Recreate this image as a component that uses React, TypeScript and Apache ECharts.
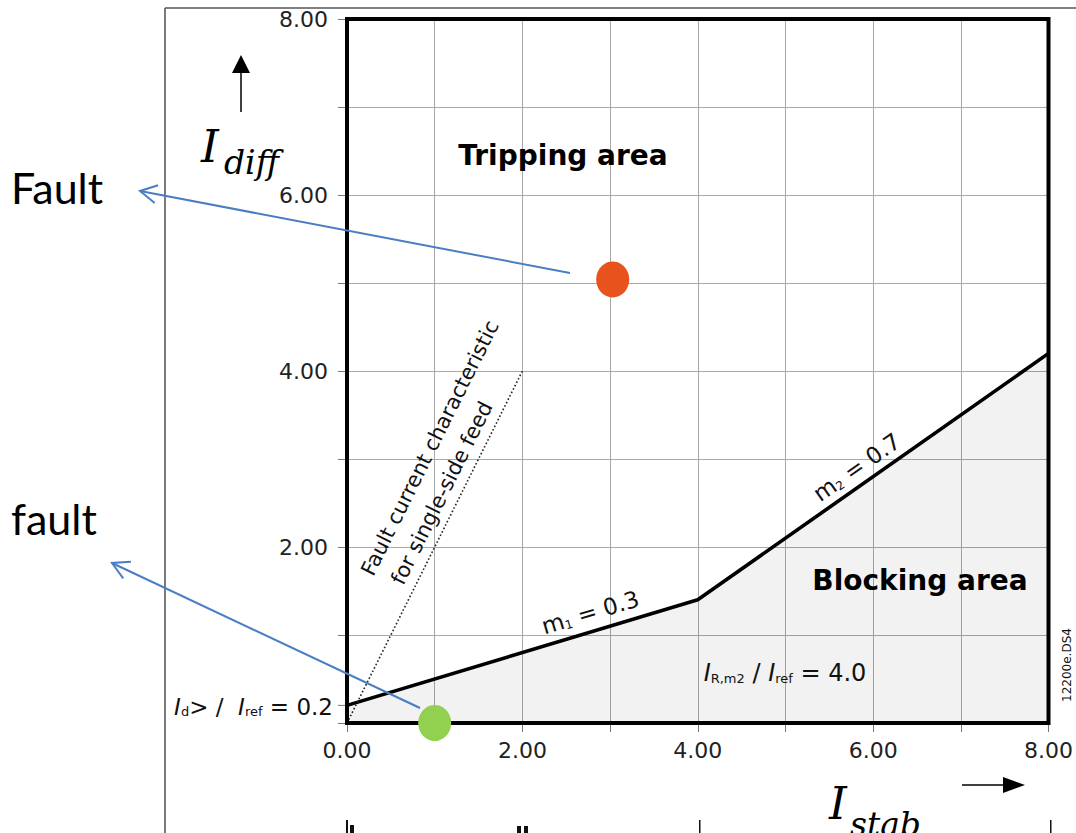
import React, { useEffect, useRef } from "react";
import * as echarts from "echarts";

// ---- data ----
const axisMin = 0;
const axisMax = 8;
const axisStep = 1;
const characteristicX = [0, 4, 8];
const characteristicY = [0.2, 1.4, 4.2];
const singleFeedX = [0, 2];
const singleFeedY = [0, 4];
const faultHigh = [3.03, 5.04];
const faultLow = [1.0, 0.0];
const pickupValue = 0.2;

const tickFont = "DejaVu Sans";

export default function App() {
  const ref = useRef<HTMLDivElement>(null);

  useEffect(() => {
    const chart = echarts.init(ref.current!, null, { renderer: "svg" });
    const axisCommon = {
      type: "value",
      min: axisMin,
      max: axisMax,
      interval: axisStep,
      axisLine: { show: false },
      axisTick: { show: true, inside: false, length: 9, lineStyle: { color: "#777", width: 1 } },
      splitLine: { show: true, lineStyle: { color: "#a8a8a8", width: 1 } },
    };
    chart.setOption({
      animation: false,
      backgroundColor: "#ffffff",
      grid: { left: 347, right: 25, top: 19, bottom: 110, containLabel: false },
      xAxis: {
        ...axisCommon,
        axisLabel: {
          margin: 16,
          fontFamily: tickFont,
          fontSize: 22,
          color: "#222",
          formatter: (v: number) => (v % 2 === 0 ? v.toFixed(2) : ""),
        },
      },
      yAxis: {
        ...axisCommon,
        axisLabel: {
          margin: 19,
          fontFamily: tickFont,
          fontSize: 22,
          color: "#222",
          formatter: (v: number) => (v % 2 === 0 && v > 0 ? v.toFixed(2) : ""),
        },
      },
      series: [
        {
          type: "line",
          data: characteristicX.map((x, i) => [x, characteristicY[i]]),
          symbol: "none",
          lineStyle: { color: "#000", width: 3.6 },
          areaStyle: { color: "rgba(0,0,0,0.075)", origin: "start" },
          z: 3,
        },
        {
          type: "line",
          data: singleFeedX.map((x, i) => [x, singleFeedY[i]]),
          symbol: "none",
          lineStyle: { color: "#222", width: 1.6, type: [1.6, 2.2] },
          z: 3,
        },
        {
          type: "scatter",
          data: [faultHigh],
          symbol: "circle",
          symbolSize: [33, 36],
          itemStyle: { color: "#E8521C", opacity: 1 },
          clip: false,
          z: 20,
        },
        {
          type: "scatter",
          data: [faultLow],
          symbol: "circle",
          symbolSize: [33, 36],
          itemStyle: { color: "#92D050", opacity: 1 },
          clip: false,
          z: 20,
        },
      ],
    });

    const px = (v: number[]) => chart.convertToPixel({ gridIndex: 0 }, v) as number[];
    const tl = px([axisMin, axisMax]);
    const br = px([axisMax, axisMin]);
    const pick = px([axisMin, pickupValue]);

    const blue = "#4A7EC4";
    const arrowHead = (tip: number[], from: number[], len: number, spread: number) => {
      const ang = Math.atan2(from[1] - tip[1], from[0] - tip[0]);
      const a1 = ang + spread;
      const a2 = ang - spread;
      return [
        [tip[0] + len * Math.cos(a1), tip[1] + len * Math.sin(a1)],
        tip,
        [tip[0] + len * Math.cos(a2), tip[1] + len * Math.sin(a2)],
      ];
    };

    const textEl = (text: string, x: number, y: number, style: any, rotation = 0, z = 12) => ({
      type: "text",
      x,
      y,
      rotation,
      z,
      style: { text, x: 0, y: 0, align: "center", verticalAlign: "middle", fill: "#111", ...style },
    });

    const a1Tip = [140, 191];
    const a1From = [570, 273];
    const a2Tip = [112, 563];
    const a2From = [420, 708];

    const graphic: any[] = [
      // outer page lines
      { type: "line", shape: { x1: 165, y1: 8, x2: 165, y2: 833 }, style: { stroke: "#333", lineWidth: 1.3 }, z: 1 },
      { type: "line", shape: { x1: 165, y1: 8, x2: 1076, y2: 8 }, style: { stroke: "#555", lineWidth: 1.3 }, z: 1 },
      // frame
      {
        type: "rect",
        shape: { x: tl[0], y: tl[1], width: br[0] - tl[0], height: br[1] - tl[1] },
        style: { fill: "none", stroke: "#000", lineWidth: 4 },
        z: 10,
      },
      // pickup tick
      { type: "line", shape: { x1: pick[0] - 9, y1: pick[1], x2: pick[0], y2: pick[1] }, style: { stroke: "#777", lineWidth: 1 }, z: 5 },
      // bottom marks
      { type: "rect", shape: { x: 346, y: 820, width: 2, height: 13 }, style: { fill: "#111" }, z: 5 },
      { type: "rect", shape: { x: 350, y: 825, width: 4, height: 8 }, style: { fill: "#111" }, z: 5 },
      { type: "rect", shape: { x: 517, y: 826, width: 4, height: 7 }, style: { fill: "#111" }, z: 5 },
      { type: "rect", shape: { x: 524, y: 826, width: 4, height: 7 }, style: { fill: "#111" }, z: 5 },
      { type: "rect", shape: { x: 699, y: 820, width: 1.5, height: 13 }, style: { fill: "#111" }, z: 5 },
      { type: "rect", shape: { x: 1050, y: 820, width: 1.5, height: 13 }, style: { fill: "#111" }, z: 5 },
      // blue annotation arrows
      { type: "line", shape: { x1: a1From[0], y1: a1From[1], x2: a1Tip[0], y2: a1Tip[1] }, style: { stroke: blue, lineWidth: 2 }, z: 15 },
      { type: "polyline", shape: { points: arrowHead(a1Tip, a1From, 19, 0.5) }, style: { stroke: blue, lineWidth: 2, fill: "none" }, z: 15 },
      { type: "line", shape: { x1: a2From[0], y1: a2From[1], x2: a2Tip[0], y2: a2Tip[1] }, style: { stroke: blue, lineWidth: 2 }, z: 15 },
      { type: "polyline", shape: { points: arrowHead(a2Tip, a2From, 19, 0.5) }, style: { stroke: blue, lineWidth: 2, fill: "none" }, z: 15 },
      // axis arrows
      { type: "line", shape: { x1: 241, y1: 112, x2: 241, y2: 70 }, style: { stroke: "#000", lineWidth: 1.5 }, z: 5 },
      { type: "polygon", shape: { points: [[232, 73], [250, 73], [241, 55]] }, style: { fill: "#000" }, z: 5 },
      { type: "line", shape: { x1: 962, y1: 785, x2: 1005, y2: 785 }, style: { stroke: "#000", lineWidth: 1.5 }, z: 5 },
      { type: "polygon", shape: { points: [[1003, 777], [1003, 793], [1025, 785]] }, style: { fill: "#000" }, z: 5 },
      // left labels
      { type: "text", x: 11, y: 187, z: 12, style: { text: "Fault", x: 0, y: 0, align: "left", verticalAlign: "middle", fill: "#000", fontFamily: "Lato", fontSize: 43 } },
      { type: "text", x: 11, y: 518, z: 12, style: { text: "fault", x: 0, y: 0, align: "left", verticalAlign: "middle", fill: "#000", fontFamily: "Lato", fontSize: 43 } },
      // I_diff
      { type: "text", x: 201, y: 169, z: 12, style: { text: "I", x: 0, y: 0, align: "left", verticalAlign: "bottom", fill: "#000", fontFamily: "DejaVu Serif", fontStyle: "italic", fontSize: 45 } },
      { type: "text", x: 224, y: 179, z: 12, style: { text: "diff", x: 0, y: 0, align: "left", verticalAlign: "bottom", fill: "#000", fontFamily: "DejaVu Serif", fontStyle: "italic", fontSize: 33 } },
      // I_stab
      { type: "text", x: 829, y: 826, z: 12, style: { text: "I", x: 0, y: 0, align: "left", verticalAlign: "bottom", fill: "#000", fontFamily: "DejaVu Serif", fontStyle: "italic", fontSize: 45 } },
      { type: "text", x: 850, y: 841, z: 12, style: { text: "stab", x: 0, y: 0, align: "left", verticalAlign: "bottom", fill: "#000", fontFamily: "DejaVu Serif", fontStyle: "italic", fontSize: 33 } },
      // area labels
      textEl("Tripping area", 563, 155, { fontFamily: "DejaVu Sans", fontWeight: "bold", fontSize: 28, fill: "#000" }),
      textEl("Blocking area", 920, 580, { fontFamily: "DejaVu Sans", fontWeight: "bold", fontSize: 28, fill: "#000" }),
      // slope labels
      {
        type: "text", x: 590, y: 611, rotation: Math.atan(0.3), z: 12,
        style: {
          text: "{m|m}{s|1}{m| = 0.3}", x: 0, y: 0, align: "center", verticalAlign: "middle", fill: "#111",
          rich: {
            m: { fontFamily: tickFont, fontSize: 23, lineHeight: 26, verticalAlign: "bottom", fill: "#111" },
            s: { fontFamily: tickFont, fontSize: 12, lineHeight: 10, verticalAlign: "bottom", fill: "#111" },
          },
        },
      },
      {
        type: "text", x: 856, y: 466, rotation: Math.atan(0.7), z: 12,
        style: {
          text: "{m|m}{s|2}{m| = 0.7}", x: 0, y: 0, align: "center", verticalAlign: "middle", fill: "#111",
          rich: {
            m: { fontFamily: tickFont, fontSize: 23, lineHeight: 26, verticalAlign: "bottom", fill: "#111" },
            s: { fontFamily: tickFont, fontSize: 12, lineHeight: 10, verticalAlign: "bottom", fill: "#111" },
          },
        },
      },
      // I_R,m2 / I_ref = 4.0
      {
        type: "text", x: 785, y: 672, z: 12,
        style: {
          text: "{i|I}{s|R,m2}{m| / }{i|I}{s|ref}{m| = 4.0}", x: 0, y: 0, align: "center", verticalAlign: "middle", fill: "#111",
          rich: {
            i: { fontFamily: tickFont, fontStyle: "italic", fontSize: 24, lineHeight: 26, verticalAlign: "bottom", fill: "#111" },
            m: { fontFamily: tickFont, fontSize: 24, lineHeight: 26, verticalAlign: "bottom", fill: "#111" },
            s: { fontFamily: tickFont, fontSize: 13, lineHeight: 10, verticalAlign: "bottom", fill: "#111" },
          },
        },
      },
      // I_d> / I_ref = 0.2
      {
        type: "text", x: 333, y: 705, z: 12,
        style: {
          text: "{i|I}{s|d}{m|> /  }{i|I}{s|ref}{m| = 0.2}", x: 0, y: 0, align: "right", verticalAlign: "middle", fill: "#111",
          rich: {
            i: { fontFamily: tickFont, fontStyle: "italic", fontSize: 23, lineHeight: 26, verticalAlign: "bottom", fill: "#111" },
            m: { fontFamily: tickFont, fontSize: 23, lineHeight: 26, verticalAlign: "bottom", fill: "#111" },
            s: { fontFamily: tickFont, fontSize: 13, lineHeight: 10, verticalAlign: "bottom", fill: "#111" },
          },
        },
      },
      // fault current characteristic labels
      textEl("Fault current characteristic", 430, 448, { fontFamily: tickFont, fontSize: 21, fill: "#111" }, Math.atan(2)),
      textEl("for single-side feed", 442, 493, { fontFamily: tickFont, fontSize: 21, fill: "#111" }, Math.atan(2)),
      // drawing id
      textEl("12200e.DS4", 1067, 665, { fontFamily: tickFont, fontSize: 12, fill: "#111" }, Math.PI / 2),
    ];

    chart.setOption({ graphic });
    return () => chart.dispose();
  }, []);

  return (
    <div
      ref={ref}
      style={{ position: "fixed", left: 0, top: 0, width: 1076, height: 833, background: "#fff" }}
    />
  );
}
